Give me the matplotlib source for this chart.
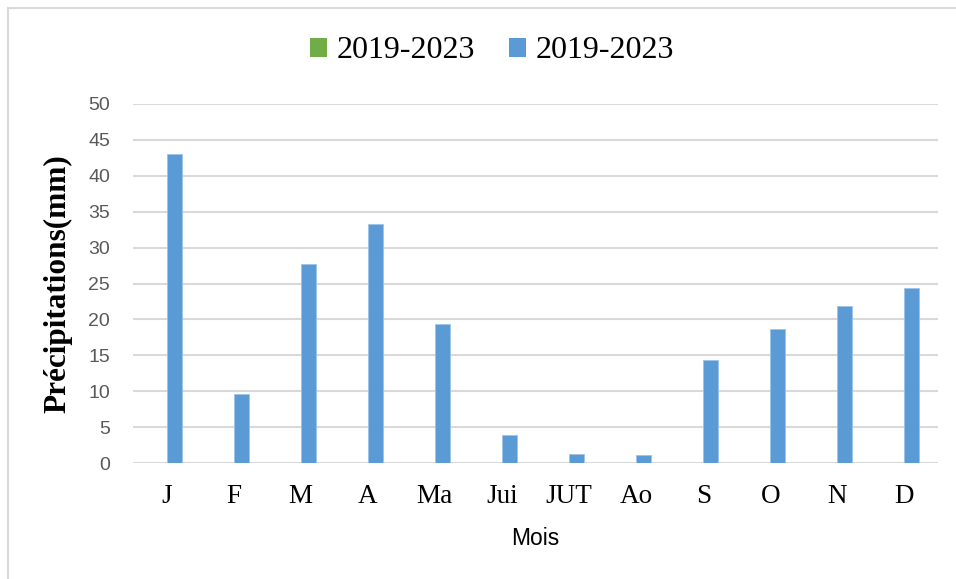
import numpy as np
import matplotlib.pyplot as plt
from matplotlib.patches import Patch
from matplotlib.lines import Line2D

# Data
months = ["J", "F", "M", "A", "Ma", "Jui", "JUT", "Ao", "S", "O", "N", "D"]
green_vals = [0, 0, 0, 0, 0, 0, 0, 0, 0, 0, 0, 0]
blue_vals = [43.0, 9.6, 27.7, 33.3, 19.4, 3.9, 1.25, 1.05, 14.4, 18.6, 21.9, 24.4]
series_labels = ["2019-2023", "2019-2023"]
yticks = [0, 5, 10, 15, 20, 25, 30, 35, 40, 45, 50]

green = "#70AD47"
blue = "#5B9BD5"
grid_col = "#D9D9D9"
serif = "Liberation Serif"
sans = "Liberation Sans"

W, H = 956, 579
fig = plt.figure(figsize=(W / 100, H / 100), dpi=100)
ax = fig.add_axes([133 / W, 1 - 463 / H, (938 - 133) / W, (463 - 104) / H])

x = np.arange(len(months))
bw = 0.224
ax.bar(x - bw / 2, green_vals, width=bw, color=green)
ax.bar(x + bw / 2, blue_vals, width=bw, color=blue, edgecolor="#9DC3E6", linewidth=0.6)

ax.set_xlim(-0.5, len(months) - 0.5)
ax.set_ylim(0, 50)
ax.set_yticks(yticks)
ax.set_yticklabels([str(t) for t in yticks], fontsize=14, color="#595959", family=sans)
ax.set_xticks(x)
ax.set_xticklabels(months, fontsize=19.5, family=serif, color="black")
ax.tick_params(axis="both", length=0)
ax.tick_params(axis="y", pad=16.5)
ax.tick_params(axis="x", pad=15)

ax.yaxis.grid(True, color=grid_col, linewidth=1.5)
ax.set_axisbelow(True)
for s in ax.spines.values():
    s.set_visible(False)

ax.set_xlabel("Mois", fontsize=16.5, family=sans, color="black", labelpad=13)
ax.set_ylabel("Précipitations(mm)", fontsize=22.5, family=serif, fontweight="bold",
              color="black")
ax.yaxis.set_label_coords(-0.075, 0.5)

handles = [Patch(facecolor=green, edgecolor="none"), Patch(facecolor=blue, edgecolor="none")]
fig.legend(handles, series_labels, loc="center", bbox_to_anchor=(492 / W, 1 - 51 / H),
           ncol=2, frameon=False, prop={"family": serif, "size": 23},
           handlelength=0.55, handleheight=0.55, handletextpad=0.3, columnspacing=1.05)

# chart area border (only top and left edges are visible)
fig.add_artist(Line2D([7.5 / W, 7.5 / W], [0, 1 - 7.5 / H], color=grid_col, linewidth=1.5))
fig.add_artist(Line2D([7.5 / W, 1], [1 - 7.5 / H, 1 - 7.5 / H], color=grid_col, linewidth=1.5))

fig.savefig("out.png", dpi=100)
